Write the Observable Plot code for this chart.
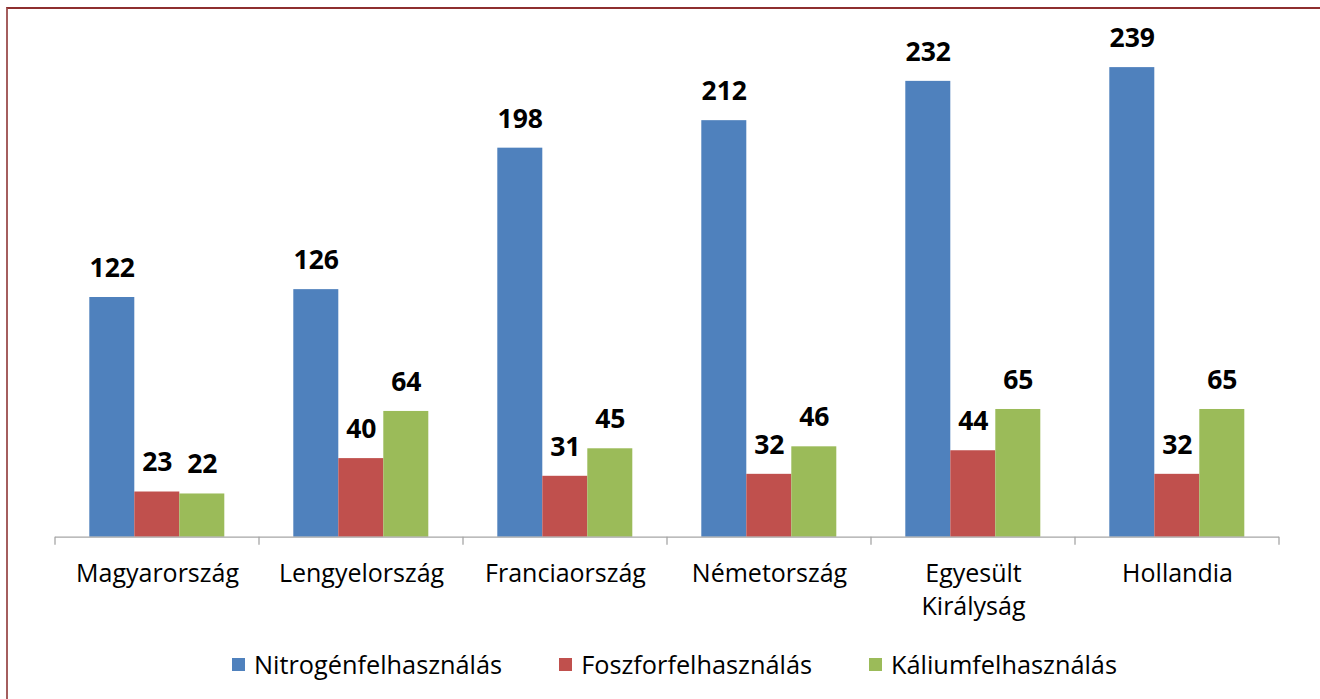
<!DOCTYPE html>
<html>
<head>
<meta charset="utf-8">
<script src="https://cdn.jsdelivr.net/npm/d3@7"></script>
<script src="https://cdn.jsdelivr.net/npm/@observablehq/plot@0.6"></script>
<style>
  html, body { margin: 0; padding: 0; background: #fff; overflow: hidden; }
  #wrap { position: relative; width: 1320px; height: 699px; font-family: "Open Sans", sans-serif; }
  #frame { position: absolute; left: 6px; top: 7px; width: 1400px; height: 800px;
           border-top: 2px solid #8E2F2F; border-left: 2px solid #A45E5E; box-sizing: border-box; }
  #chart { position: absolute; left: 0; top: 0; }
  #legend { position: absolute; left: 232px; top: 647px; display: flex; align-items: center;
            font-size: 25.3px; color: #000; white-space: nowrap; }
  .item { display: flex; align-items: center; margin-right: 57px; }
  .sw { width: 13px; height: 13px; margin-right: 9px; }
</style>
</head>
<body>
<div id="wrap">
  <div id="frame"></div>
  <div id="chart"></div>
  <div id="legend"></div>
</div>
<script>
const countries = ["Magyarország", "Lengyelország", "Franciaország", "Németország", "Egyesült\nKirályság", "Hollandia"];
const series = ["Nitrogénfelhasználás", "Foszforfelhasználás", "Káliumfelhasználás"];
const nitrogen = [122, 126, 198, 212, 232, 239];
const phosphorus = [23, 40, 31, 32, 44, 32];
const potassium = [22, 64, 45, 46, 65, 65];
const colors = ["#4F81BD", "#C0504D", "#9BBB59"];

const valuesBySeries = [nitrogen, phosphorus, potassium];
const data = countries.flatMap((c, i) =>
  series.map((s, j) => ({ country: c, series: s, value: valuesBySeries[j][i] })));

const plot = Plot.plot({
  width: 1320,
  height: 640,
  marginLeft: 52.7,
  marginRight: 39.3,
  marginTop: 45.5,
  marginBottom: 103.3,
  style: { fontFamily: "'Open Sans', sans-serif", background: "transparent", color: "#000" },
  fx: { domain: countries, padding: 0, label: null },
  x: { domain: series, paddingInner: 0, paddingOuter: 0.75, axis: null },
  y: { domain: [0, 250], axis: null },
  color: { domain: series, range: colors },
  marks: [
    Plot.barY(data, { fx: "country", x: "series", y: "value", fill: "series" }),
    Plot.text(data, { fx: "country", x: "series", y: "value", text: d => String(d.value),
      dy: -29, fontSize: 26.5, fontWeight: "bold", lineAnchor: "middle", fill: "#000" }),
    Plot.ruleY([0], { stroke: "#a6a6a6", strokeWidth: 1.3 }),
    Plot.axisFx({ anchor: "bottom", tickSize: 0, tickPadding: 22, fontSize: 25, lineHeight: 1.3,
      label: null, fill: "#000" })
  ]
});
document.getElementById("chart").appendChild(plot);

// group separator ticks on the baseline, positioned from Plot's own scales
try {
  const fx = plot.scale("fx");
  const y = plot.scale("y");
  const y0 = y.apply(0);
  const edges = fx.domain.map(d => fx.apply(d));
  edges.push(fx.apply(fx.domain[fx.domain.length - 1]) + fx.bandwidth);
  d3.select(plot).append("g")
    .selectAll("line").data(edges).join("line")
    .attr("x1", d => d).attr("x2", d => d)
    .attr("y1", y0).attr("y2", y0 + 8)
    .attr("stroke", "#a6a6a6").attr("stroke-width", 1.3);
} catch (e) { console.error(e); }

const legend = d3.select("#legend");
series.forEach((s, i) => {
  const it = legend.append("div").attr("class", "item");
  it.append("div").attr("class", "sw").style("background", colors[i]);
  it.append("span").text(s);
});
</script>
</body>
</html>
